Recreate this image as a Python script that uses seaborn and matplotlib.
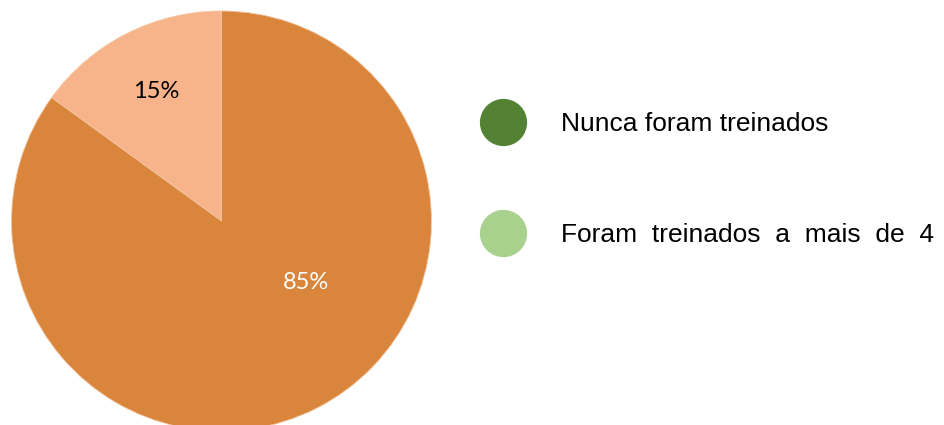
""" Pie chart: share of staff by training status.

"""
import numpy as np
import matplotlib
matplotlib.use('Agg')
import matplotlib.pyplot as plt
from matplotlib.lines import Line2D
import seaborn as sns

# data
slice_values = [15, 85]
slice_labels = ['15%', '85%']
slice_colors = ['#F7B48B', '#D9853B']
legend_labels = ['Nunca foram treinados', 'Foram  treinados  a  mais  de  4']
legend_colors = ['#548235', '#A9D18E']

sns.set_theme(style='white')
plt.rcParams['font.family'] = ['Liberation Sans', 'DejaVu Sans']

fig = plt.figure(figsize=(9.44, 4.25), dpi=100)
# axes sized so the circle sits top-left, cut a bit at the bottom
ax = fig.add_axes([11.5 / 944, -6 / 425, 420 / 944, 420 / 425])
wedges, texts, autotexts = ax.pie(
    slice_values, colors=slice_colors, startangle=90, counterclock=True,
    radius=1, autopct='%1.0f%%', pctdistance=0.69,
    wedgeprops={'edgecolor': '#F3C7A4', 'linewidth': 0.6},
    textprops={'family': ['Lato', 'DejaVu Sans'], 'fontsize': 17},
)
ax.set_xlim(-1, 1)
ax.set_ylim(-1, 1)
ax.set_aspect('equal')
for t, lab in zip(autotexts, slice_labels):
    t.set_text(lab)
autotexts[0].set_color('black')
autotexts[1].set_color('white')
# excel put the big label off the wedge middle
ang = np.deg2rad(-36)
autotexts[1].set_position((0.50 * np.cos(ang), 0.50 * np.sin(ang)))

handles = [Line2D([], [], linestyle='none', marker='o', markersize=33,
                  markerfacecolor=c, markeredgecolor=c) for c in legend_colors]
leg = fig.legend(handles, legend_labels, loc='upper left', bbox_to_anchor=(477 / 944, 1 - 112 / 425),
                 frameon=False, fontsize=19, labelspacing=3.3, handletextpad=1.2,
                 borderaxespad=0, borderpad=0)
for t in leg.get_texts():
    t.set_color('black')

fig.savefig('out.png', dpi=100)
